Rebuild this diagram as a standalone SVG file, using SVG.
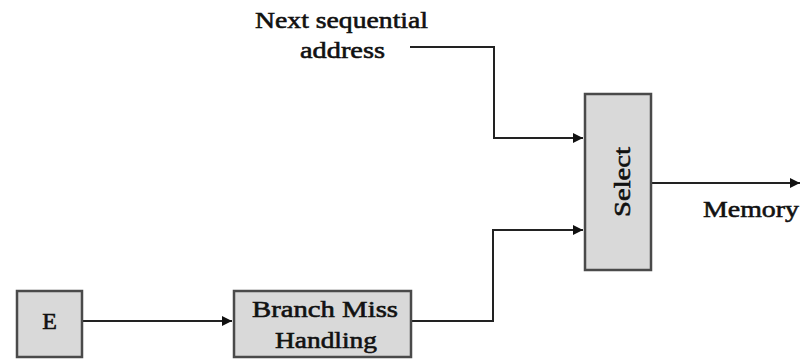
<svg xmlns="http://www.w3.org/2000/svg" width="806" height="360" viewBox="0 0 806 360">
  <defs>
    <style>
      .box { fill: #d9d9d9; stroke: #4a4a4a; stroke-width: 2.5; }
      .wire { fill: none; stroke: #222; stroke-width: 2; }
      .lbl { font-family: "Liberation Serif", "DejaVu Serif", serif; font-weight: normal; font-size: 24px; fill: #111; stroke: #111; stroke-width: 0.6; }
    </style>
    <marker id="arrow" viewBox="0 0 10 10" refX="10" refY="5" markerWidth="10" markerHeight="10" markerUnits="userSpaceOnUse" orient="auto">
      <path d="M0,0 L10,5 L0,10 z" fill="#111"/>
    </marker>
  </defs>
  <rect width="806" height="360" fill="#fff"/>

  <g id="connectors">
    <path class="wire" d="M410,47 H494 V138 H583" marker-end="url(#arrow)"/>
    <path class="wire" d="M411,321 H493 V230 H583" marker-end="url(#arrow)"/>
    <path class="wire" d="M82,321 H232" marker-end="url(#arrow)"/>
    <path class="wire" d="M651,183 H800" marker-end="url(#arrow)"/>
  </g>

  <g id="next-address">
    <text class="lbl" x="255" y="28" textLength="173" lengthAdjust="spacingAndGlyphs">Next sequential</text>
    <text class="lbl" x="300" y="58" textLength="85" lengthAdjust="spacingAndGlyphs">address</text>
  </g>

  <g id="node-e">
    <rect class="box" x="17" y="291" width="65" height="66"/>
    <text class="lbl" x="49.5" y="329" text-anchor="middle">E</text>
  </g>

  <g id="node-branch-miss">
    <rect class="box" x="234" y="291" width="177" height="66"/>
    <text class="lbl" x="252" y="317" textLength="146" lengthAdjust="spacingAndGlyphs">Branch Miss</text>
    <text class="lbl" x="275" y="348" textLength="102" lengthAdjust="spacingAndGlyphs">Handling</text>
  </g>

  <g id="node-select">
    <rect class="box" x="585" y="94" width="66" height="176"/>
    <text class="lbl" transform="translate(630,217) rotate(-90)" x="0" y="0" textLength="70" lengthAdjust="spacingAndGlyphs">Select</text>
  </g>

  <g id="memory-label">
    <text class="lbl" x="703" y="217" textLength="96" lengthAdjust="spacingAndGlyphs">Memory</text>
  </g>
</svg>
